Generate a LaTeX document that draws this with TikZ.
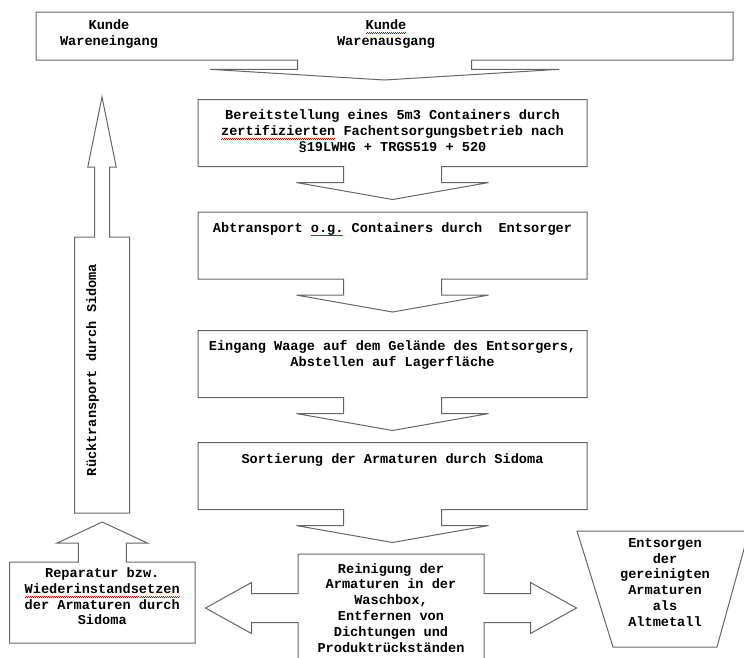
\documentclass[tikz,border=0pt]{standalone}
\usepackage{fontspec}
\setmonofont{Liberation Mono}
\usetikzlibrary{shapes.arrows}

\newcommand\redwave[1]{\setbox0\hbox{#1}\leavevmode\rlap{\color{red!85!black}\raisebox{-4pt}{\hbox to\wd0{%
    \xleaders\hbox{\rule{1pt}{0.6pt}\rule[0.8pt]{1pt}{0.6pt}}\hfil}}}\box0\relax}
\newcommand\boxfont{\ttfamily\bfseries\fontsize{13.6}{15.8}\selectfont}

\begin{document}
\begin{tikzpicture}[x=1pt, y=-1pt,
    flow/.style={arrow box, draw=black!60, line width=1pt, fill=white, inner sep=0pt, outer sep=0pt},
    stepbox/.style={flow, minimum width=389pt, minimum height=67pt, arrow box arrows={south:33pt},
        arrow box shaft width=98pt, arrow box head extend=47pt, arrow box tip angle=160},
    boxtext/.style={font=\boxfont, align=center, anchor=north, inner sep=0pt}]

    \useasboundingbox (0,0) rectangle (744,657);
    \fill[white] (0,0) rectangle (744,657);

    \node[flow, minimum width=697pt, minimum height=48pt, arrow box arrows={south:20pt},
        arrow box shaft width=174pt, arrow box head extend=87.5pt, arrow box tip angle=173] (kunde) at (384.5,36) {};
    \node[boxtext] (eingang) at (109,19.5) {Kunde\\Wareneingang};
    \node[boxtext] (ausgang) at (386,19.5) {\redwave{Kunde}\\Warenausgang};

    \node[stepbox] (bereit) at (392.5,133) {};
    \node[boxtext] (bereittext) at ([yshift=-10pt]bereit.north) {Bereitstellung eines 5m3 Containers durch\\
        \redwave{zertifizierten} Fachentsorgungsbetrieb nach\\ \S19LWHG + TRGS519 + 520};

    \node[stepbox] (abtransport) at (392.5,245.5) {};
    \node[boxtext] (abtransporttext) at ([yshift=-10pt]abtransport.north) {Abtransport \redwave{o.g.} Containers durch\ \ Entsorger};

    \node[stepbox] (waage) at (392.5,364) {};
    \node[boxtext] (waagetext) at ([yshift=-10pt]waage.north) {Eingang Waage auf dem Gel\"ande des Entsorgers,\\ Abstellen auf Lagerfl\"ache};

    \node[stepbox] (sortierung) at (392.5,476) {};
    \node[boxtext] (sortierungtext) at ([yshift=-11pt]sortierung.north) {Sortierung der Armaturen durch Sidoma};

    \node[flow, minimum width=186pt, minimum height=108pt, arrow box arrows={east:92.5pt, west:92.5pt},
        arrow box shaft width=29pt, arrow box head extend=11pt, arrow box tip angle=58] (reinigung) at (391,608) {};
    \node[boxtext] (reinigungtext) at ([yshift=-9pt]reinigung.north) {Reinigung der\\ Armaturen in der\\ Waschbox,\\
        Entfernen von\\ Dichtungen und\\ Produktr\"uckst\"anden};

    \node[flow, minimum width=185.5pt, minimum height=81pt, arrow box arrows={north:40pt},
        arrow box shaft width=48pt, arrow box head extend=21.5pt, arrow box tip angle=130] (reparatur) at (102.25,602.5) {};
    \node[boxtext] (reparaturtext) at ([yshift=35pt]reparatur.center) {Reparatur bzw.\\ \redwave{Wiederinstandsetzen}\\
        der Armaturen durch\\ Sidoma};

    \node[flow, minimum width=55pt, minimum height=276pt, arrow box arrows={north:140pt},
        arrow box shaft width=15pt, arrow box head extend=6.75pt, arrow box tip angle=23] (ruecktransport) at (102,375) {};
    \node[font=\boxfont, rotate=90, inner sep=0pt] (ruecktext) at (92.5,370) {R\"ucktransport durch Sidoma};

    \draw[draw=black!60, line width=1pt, fill=white] (577,531) -- (749,531) -- (717,647) -- (613,647) -- cycle;
    \node[boxtext] (entsorgen) at (665,538) {Entsorgen\\ der\\ gereinigten\\ Armaturen\\ als\\ Altmetall};

\end{tikzpicture}
\end{document}
